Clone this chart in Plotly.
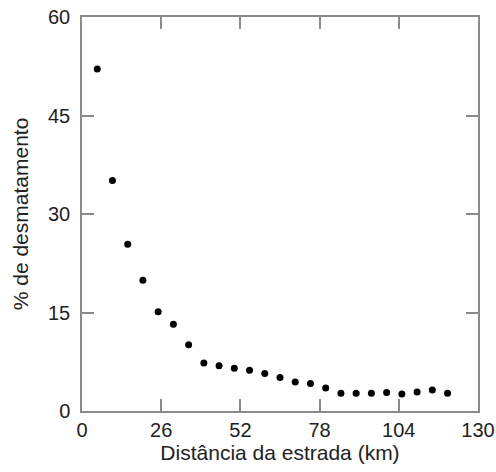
import plotly.graph_objects as go

distancia = [5, 10, 15, 20, 25, 30, 35, 40, 45, 50, 55, 60, 65, 70, 75, 80,
             85, 90, 95, 100, 105, 110, 115, 120]
desmatamento = [52.1, 35.1, 25.4, 19.9, 15.1, 13.2, 10.1, 7.3, 6.9, 6.5, 6.2, 5.7,
                5.1, 4.4, 4.2, 3.5, 2.7, 2.7, 2.7, 2.8, 2.6, 2.9, 3.2, 2.7]
x_ticks = [0, 26, 52, 78, 104, 130]
y_ticks = [0, 15, 30, 45, 60]

FONT = "Liberation Sans, Arial, sans-serif"

fig = go.Figure()
fig.add_trace(go.Scatter(
    x=distancia, y=desmatamento, mode="markers",
    marker=dict(color="black", size=7),
    showlegend=False,
))

axis_common = dict(
    showgrid=False, zeroline=False, showline=True, linecolor="#8a8a8a", linewidth=1.5,
    mirror="ticks", ticks="inside", ticklen=12, tickcolor="#8a8a8a", tickwidth=1.5,
    tickfont=dict(family=FONT, size=20, color="#222222"),
    automargin=False,
)

fig.update_xaxes(
    range=[0, 130], tickvals=x_ticks, ticktext=[str(v) for v in x_ticks],
    ticklabelstandoff=0,
    title=dict(text="Distância da estrada (km)", standoff=2,
               font=dict(family=FONT, size=21, color="#222222")),
    **axis_common,
)
fig.update_yaxes(
    range=[0, 60], tickvals=y_ticks, ticktext=[str(v) for v in y_ticks],
    ticklabelstandoff=6,
    title=dict(text="% de desmatamento", standoff=14,
               font=dict(family=FONT, size=21, color="#222222")),
    **axis_common,
)

fig.update_layout(
    width=496, height=472,
    margin=dict(l=82, r=18, t=17, b=61),
    plot_bgcolor="white", paper_bgcolor="white",
)

fig.write_html("out.html")
